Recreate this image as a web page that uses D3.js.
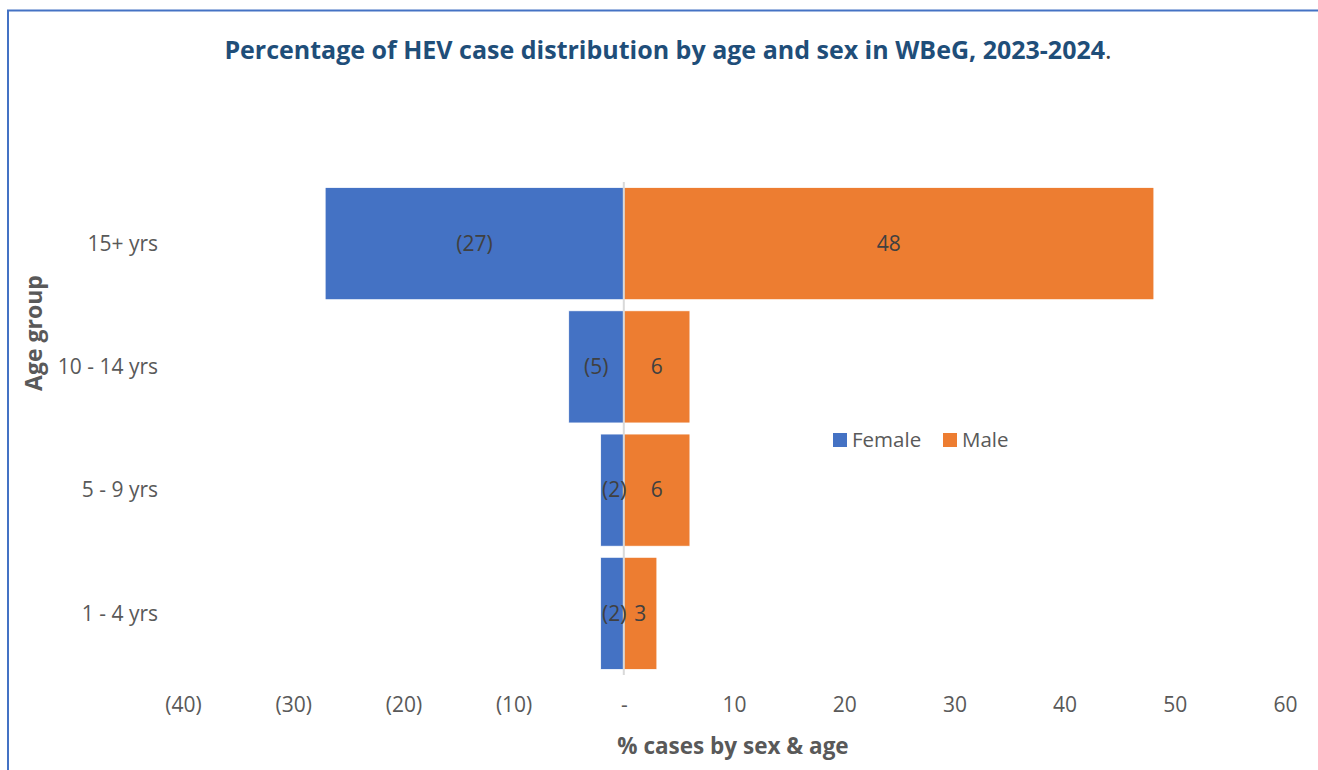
<!DOCTYPE html>
<html>
<head>
<meta charset="utf-8">
<script src="https://cdn.jsdelivr.net/npm/d3@7"></script>
<style>
  body { margin: 0; background: #fff; }
  svg { display: block; font-family: "Open Sans", Lato, sans-serif; }
</style>
</head>
<body>
<svg></svg>
<script>
// values (% of cases)
const ageGroups = ['15+ yrs', '10 - 14 yrs', '5 - 9 yrs', '1 - 4 yrs']
const femaleValues = [-27.1, -5.0, -2.1, -2.1]
const maleValues = [48.1, 6.0, 6.0, 3.0]
const xTicks = [-40, -30, -20, -10, 0, 10, 20, 30, 40, 50, 60]
const legendData = ['Female', 'Male']

function drawPyramid() {
    const width = 1318, height = 770
    const plot = {left: 183, right: 1285, top: 182, bottom: 675}

    const svg = d3.select('svg')
        .attr('width', width)
        .attr('height', height)

    // frame
    svg.append('path')
        .attr('d', `M8,${height + 5} L8,10.5 L${width + 5},10.5`)
        .attr('fill', 'none')
        .attr('stroke', '#4472c4')
        .attr('stroke-width', 2)

    const x = d3.scaleLinear()
        .domain([-40, 60])
        .range([plot.left, plot.right])

    const y = d3.scaleBand()
        .domain(ageGroups)
        .range([plot.top, plot.bottom])
        .paddingInner(0.09)
        .paddingOuter(0.045)

    const z = d3.scaleOrdinal()
        .domain(legendData)
        .range(['#4472c4', '#ed7d31'])

    const fmt = v => v === 0 ? '-' : v < 0 ? `(${Math.abs(v)})` : `${v}`

    const rows = ageGroups.map((g, i) => ({group: g, female: femaleValues[i], male: maleValues[i]}))

    // female bars
    svg.append('g')
        .selectAll('rect')
        .data(rows)
        .join('rect')
            .attr('x', d => x(d.female))
            .attr('y', d => y(d.group))
            .attr('width', d => x(0) - x(d.female))
            .attr('height', y.bandwidth())
            .attr('fill', z('Female'))
            .attr('stroke', '#fff')
            .attr('stroke-width', 0.75)

    // male bars
    svg.append('g')
        .selectAll('rect')
        .data(rows)
        .join('rect')
            .attr('x', x(0))
            .attr('y', d => y(d.group))
            .attr('width', d => x(d.male) - x(0))
            .attr('height', y.bandwidth())
            .attr('fill', z('Male'))
            .attr('stroke', '#fff')
            .attr('stroke-width', 0.75)

    // zero line
    svg.append('line')
        .attr('x1', x(0)).attr('x2', x(0))
        .attr('y1', plot.top).attr('y2', plot.bottom)
        .attr('stroke', '#d9d9d9')
        .attr('stroke-width', 2)

    // data labels
    const labels = svg.append('g')
        .style('font-size', '21px')
        .attr('fill', '#404040')
        .attr('text-anchor', 'middle')
    labels.selectAll('.fl')
        .data(rows)
        .join('text')
            .attr('class', 'fl')
            .attr('x', d => (x(d.female) + x(0)) / 2 + (d.female > -3 ? 2 : 0))
            .attr('y', d => y(d.group) + y.bandwidth() / 2)
            .attr('dy', '0.35em')
            .text(d => fmt(Math.round(d.female)))
    labels.selectAll('.ml')
        .data(rows)
        .join('text')
            .attr('class', 'ml')
            .attr('x', d => (x(d.male) + x(0)) / 2)
            .attr('y', d => y(d.group) + y.bandwidth() / 2)
            .attr('dy', '0.35em')
            .text(d => fmt(Math.round(d.male)))

    // category labels
    svg.append('g')
        .selectAll('text')
        .data(ageGroups)
        .join('text')
            .attr('x', 158)
            .attr('y', d => y(d) + y.bandwidth() / 2)
            .attr('dy', '0.35em')
            .attr('text-anchor', 'end')
            .attr('fill', '#595959')
            .style('font-size', '21px')
            .text(d => d)

    // x axis
    const xAxis = svg.append('g')
        .attr('transform', `translate(0, ${plot.bottom})`)
        .call(d3.axisBottom(x).tickValues(xTicks).tickSize(0).tickPadding(22).tickFormat(fmt))
    xAxis.select('.domain').remove()
    xAxis.selectAll('text')
        .attr('fill', '#595959')
        .style('font-size', '21px')
        .style('font-family', '"Open Sans", Lato, sans-serif')

    // axis titles
    svg.append('text')
        .attr('x', 733)
        .attr('y', 754)
        .attr('text-anchor', 'middle')
        .attr('fill', '#595959')
        .style('font-size', '22.5px')
        .style('font-weight', 700)
        .text('% cases by sex & age')

    svg.append('text')
        .attr('transform', 'translate(42, 333) rotate(-90)')
        .attr('text-anchor', 'middle')
        .attr('fill', '#595959')
        .style('font-size', '23px')
        .style('font-weight', 700)
        .text('Age group')

    // title
    const title = svg.append('text')
        .attr('x', 668)
        .attr('y', 59)
        .attr('text-anchor', 'middle')
        .style('font-size', '25px')
    title.append('tspan')
        .attr('fill', '#1f4e79')
        .style('font-weight', 700)
        .text('Percentage of HEV case distribution by age and sex in WBeG, 2023-2024')
    title.append('tspan')
        .attr('fill', '#404040')
        .text('.')

    // legend
    const legend = svg.append('g')
        .selectAll('g')
        .data(legendData)
        .join('g')
            .attr('transform', (d, i) => `translate(${833 + i * 110}, 433)`)
    legend.append('rect')
        .attr('width', 14)
        .attr('height', 14)
        .attr('fill', d => z(d))
    legend.append('text')
        .attr('x', 19)
        .attr('y', 7)
        .attr('dy', '0.35em')
        .attr('fill', '#595959')
        .style('font-size', '20.5px')
        .text(d => d)
}

drawPyramid()
</script>
</body>
</html>
